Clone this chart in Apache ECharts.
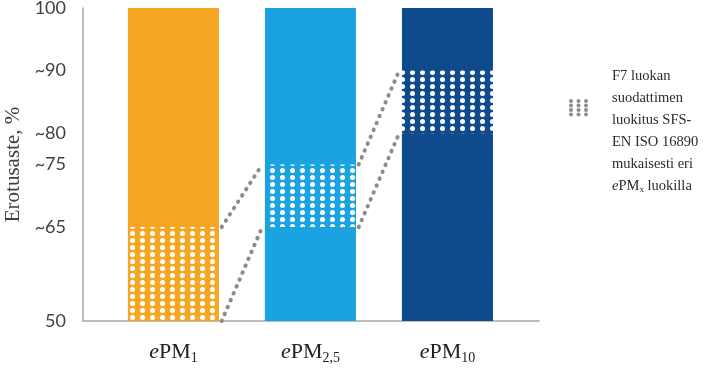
<!DOCTYPE html>
<html>
<head>
<meta charset="utf-8">
<script src="https://cdn.jsdelivr.net/npm/echarts@6/dist/echarts.min.js"></script>
<style>
  html, body { margin: 0; padding: 0; background: #fff; }
  #chart { width: 717px; height: 378px; }
</style>
</head>
<body>
<div id="chart"></div>
<script>
// luokat (x-akseli)
const categories = ["1", "2,5", "10"];
// F7-suodattimen erotusastealue kullekin luokalle
const bandLow = [50, 65, 80];
const bandHigh = [65, 75, 90];
const barTop = [100, 100, 100];
const yTicks = [50, 65, 75, 80, 90, 100];
const barColors = ["#F5A623", "#1BA3E1", "#0F4B8C"];
const legendLines = ["F7 luokan", "suodattimen", "luokitus SFS-", "EN ISO 16890", "mukaisesti eri", "{i|e}PM{s|x} luokilla"];

const chart = echarts.init(document.getElementById("chart"));

const barW = 91;
const unitPx = 137; // yhden luokan väli pikseleinä
const half = barW / 2 / unitPx;

const dotDecal = {
  symbol: "circle",
  symbolSize: 1,
  color: "#ffffff",
  dashArrayX: [4.4, 4.6],
  dashArrayY: [4.2, 1.2],
};

// palkit piirretään päällekkäin: koko palkki, pisteytetty alue, alaosa
function layer(values, dotted) {
  return {
    type: "bar",
    barWidth: barW,
    barGap: "-100%",
    silent: true,
    data: values.map((v, i) => ({
      value: [i, v],
      itemStyle: dotted ? { color: barColors[i], decal: dotDecal } : { color: barColors[i] },
    })),
  };
}

// yhdysviivat palkkien välissä
const links = [];
for (let i = 0; i < categories.length - 1; i++) {
  links.push([[i + half + 0.02, bandHigh[i]], [i + 1 - half - 0.02, bandHigh[i + 1]]]);
  links.push([[i + half + 0.02, bandLow[i]], [i + 1 - half - 0.02, bandLow[i + 1]]]);
}

const serif = "'Liberation Serif', 'Times New Roman', serif";

const option = {
  animation: false,
  grid: { left: 83, right: 178, top: 8, bottom: 57, outerBoundsMode: "none" },
  xAxis: {
    type: "value",
    min: -0.66,
    max: 2.668,
    splitLine: { show: false },
    axisTick: { show: false },
    axisLine: { show: true, onZero: false, lineStyle: { color: "#A6A6A6", width: 1.5 } },
    axisLabel: {
      customValues: [0, 1, 2],
      margin: 17,
      formatter: (v) => "{i|e}{n|PM}{s|" + categories[Math.round(v)] + "}",
      rich: {
        i: { fontFamily: serif, fontStyle: "italic", fontSize: 22, color: "#222", lineHeight: 28 },
        n: { fontFamily: serif, fontSize: 22, color: "#222", lineHeight: 28 },
        s: { fontFamily: serif, fontSize: 14, color: "#222", lineHeight: 14, padding: [13, 0, 0, 0] },
      },
    },
  },
  yAxis: {
    type: "value",
    min: 50,
    max: 100,
    name: "Erotusaste, %",
    nameLocation: "middle",
    nameGap: 59,
    nameTextStyle: { fontFamily: serif, fontSize: 21, color: "#404040" },
    splitLine: { show: false },
    axisTick: { show: false },
    axisLine: { show: true, onZero: false, lineStyle: { color: "#A6A6A6", width: 1.5 } },
    axisLabel: {
      customValues: yTicks,
      margin: 17,
      fontFamily: "Lato, 'Open Sans', sans-serif",
      fontSize: 18,
      color: "#404040",
      formatter: (v) => (v === 50 || v === 100 ? String(v) : "~" + v),
    },
  },
  series: [layer(barTop, false), layer(bandHigh, true), layer(bandLow, false)].concat(
    links.map((pts) => ({
      type: "line",
      data: pts,
      symbol: "none",
      silent: true,
      z: 1,
      lineStyle: { color: "#8C8C8C", width: 4, type: [0.5, 7], cap: "round" },
    }))
  ),
  graphic: [
    {
      type: "group",
      left: 569,
      top: 99,
      children: [0, 1, 2, 3].flatMap((r) =>
        [0, 1, 2].map((c) => ({
          type: "circle",
          shape: { cx: c * 7.5 + 2, cy: r * 4.5 + 2, r: 2 },
          style: { fill: "#8C8C8C" },
        }))
      ),
    },
    {
      type: "text",
      left: 612,
      top: 65,
      style: {
        text: legendLines.join("\n"),
        font: "14.5px " + serif,
        fill: "#2b2b2b",
        lineHeight: 22,
        rich: {
          i: { fontFamily: serif, fontStyle: "italic", fontSize: 14.5, lineHeight: 22, fill: "#2b2b2b" },
          s: { fontFamily: serif, fontSize: 9, lineHeight: 9, padding: [8, 0, 0, 0], fill: "#2b2b2b" },
        },
      },
    },
  ],
};

chart.setOption(option);
</script>
</body>
</html>
